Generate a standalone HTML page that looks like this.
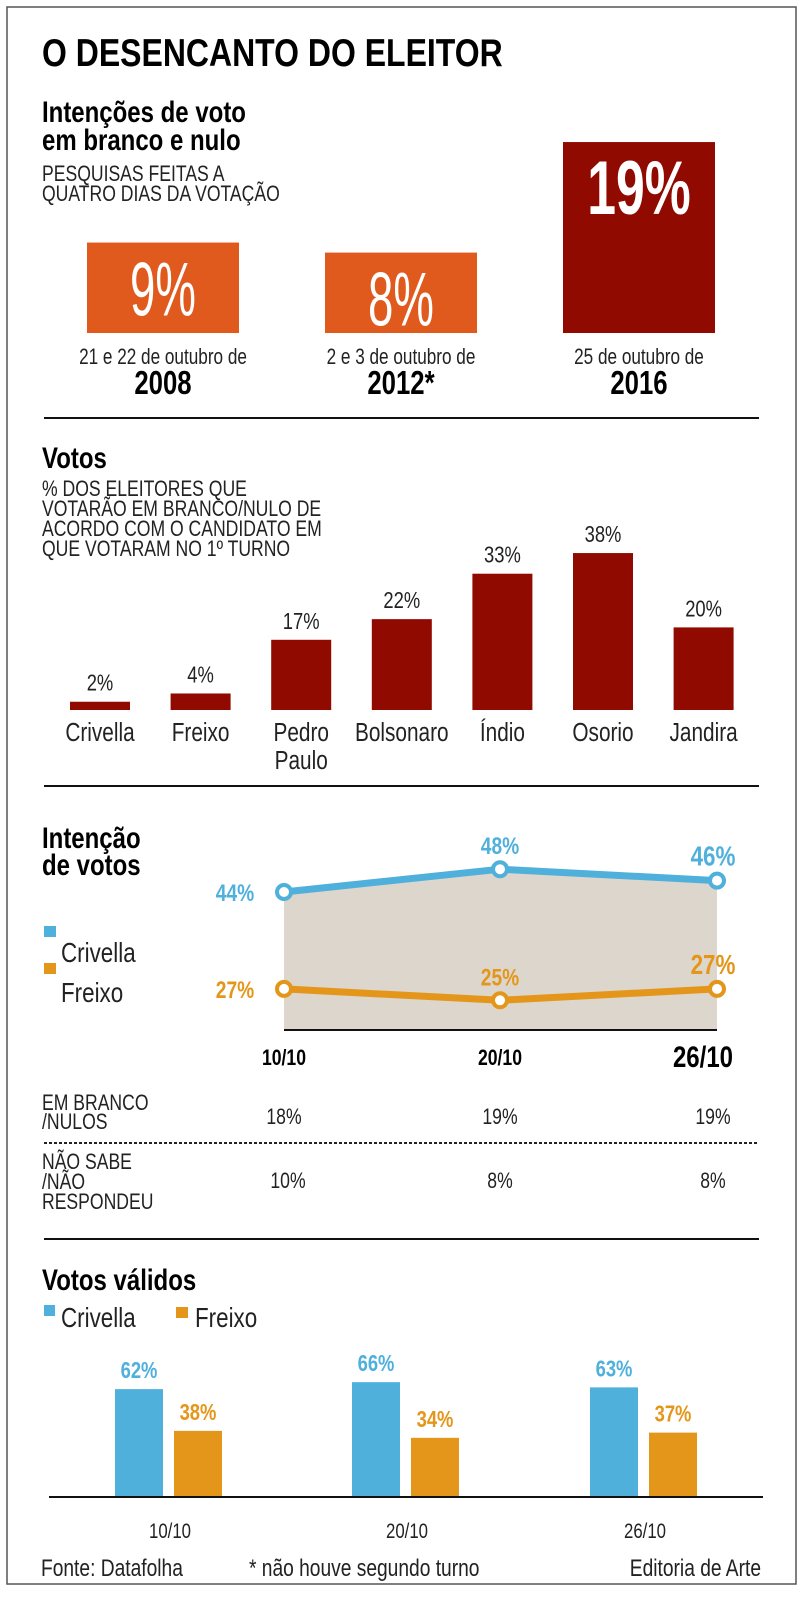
<!DOCTYPE html>
<html><head><meta charset="utf-8"><style>
html,body{margin:0;padding:0;background:#fff;}
svg{display:block;font-family:"Liberation Sans Narrow","Liberation Sans",sans-serif;}
</style></head><body>
<svg id="c" width="805" height="1600" viewBox="0 0 805 1600">
<rect x="7" y="7" width="789" height="1577" fill="#fff" stroke="#555" stroke-width="1.5"/>
<text x="42" y="66" font-size="39" font-weight="bold" data-sx="0.82">O DESENCANTO DO ELEITOR</text>
<text x="42" y="122" font-size="30" font-weight="bold">Intenções de voto</text>
<text x="42" y="150" font-size="30" font-weight="bold">em branco e nulo</text>
<text x="42" y="181" font-size="22" fill="#222">PESQUISAS FEITAS A</text>
<text x="42" y="201" font-size="22" fill="#222">QUATRO DIAS DA VOTAÇÃO</text>
<g id="s1"></g>
<line x1="44" y1="418" x2="759" y2="418" stroke="#111" stroke-width="2"/>
<text x="42" y="468" font-size="30" font-weight="bold">Votos</text>
<g font-size="22" fill="#222">
<text x="42" y="496">% DOS ELEITORES QUE</text>
<text x="42" y="516">VOTARÃO EM BRANCO/NULO DE</text>
<text x="42" y="536">ACORDO COM O CANDIDATO EM</text>
<text x="42" y="556">QUE VOTARAM NO 1º TURNO</text>
</g>
<g id="s2"></g>
<line x1="44" y1="786" x2="759" y2="786" stroke="#111" stroke-width="2"/>
<text x="42" y="848" font-size="30" font-weight="bold">Intenção</text>
<text x="42" y="875" font-size="30" font-weight="bold">de votos</text>
<rect x="44" y="926" width="12" height="11" fill="#4fb0dc"/>
<text x="61" y="962" font-size="28" fill="#222">Crivella</text>
<rect x="44" y="963" width="12" height="11" fill="#e4961a"/>
<text x="61" y="1002" font-size="28" fill="#222">Freixo</text>
<g id="s3"></g>
<g font-size="22" fill="#222">
<text x="42" y="1110">EM BRANCO</text>
<text x="42" y="1129">/NULOS</text>
<text x="42" y="1169">NÃO SABE</text>
<text x="42" y="1189">/NÃO</text>
<text x="42" y="1209">RESPONDEU</text>
</g>
<line x1="44" y1="1143" x2="759" y2="1143" stroke="#222" stroke-width="2" stroke-dasharray="3,2"/>
<line x1="44" y1="1239" x2="759" y2="1239" stroke="#111" stroke-width="2"/>
<text x="42" y="1290" font-size="30" font-weight="bold">Votos válidos</text>
<rect x="44" y="1305" width="11" height="11" fill="#4fb0dc"/>
<text x="61" y="1327" font-size="28" fill="#222">Crivella</text>
<rect x="176" y="1307" width="12" height="11" fill="#e4961a"/>
<text x="195" y="1327" font-size="28" fill="#222">Freixo</text>
<g id="s4"></g>
<g font-size="24" fill="#222">
<text x="41" y="1576">Fonte: Datafolha</text>
<text x="249" y="1576">* não houve segundo turno</text>
<text x="761" y="1576" text-anchor="end">Editoria de Arte</text>
</g>
</svg>
<script>
const NS="http://www.w3.org/2000/svg";
// Section 1 data
const s1Dates=["21 e 22 de outubro de","2 e 3 de outubro de","25 de outubro de"];
const s1Years=["2008","2012*","2016"];
const s1Values=[9,8,19];
// Section 2 data
const s2Names=["Crivella","Freixo","Pedro|Paulo","Bolsonaro","Índio","Osorio","Jandira"];
const s2Values=[2,4,17,22,33,38,20];
// Section 3 data
const s3Dates=["10/10","20/10","26/10"];
const s3Crivella=[44,48,46];
const s3Freixo=[27,25,27];
const s3Branco=["18%","19%","19%"];
const s3NaoSabe=["10%","8%","8%"];
// Section 4 data
const s4Dates=["10/10","20/10","26/10"];
const s4Crivella=[62,66,63];
const s4Freixo=[38,34,37];

function mk(tag,attrs,parent,text){const e=document.createElementNS(NS,tag);for(const k in attrs)e.setAttribute(k,attrs[k]);if(text!==undefined)e.textContent=text;parent.appendChild(e);return e;}

// Section 1
const g1=document.getElementById('s1');
const y1=v=>333-v*10.05;
s1Values.forEach((v,i)=>{
  const x=87+i*238, w=152, cx=x+w/2;
  const r=mk('rect',{x:x,y:y1(v),width:w,height:333-y1(v),fill:i===2?'#900a00':'#e05a1e'},g1);
  
  
  const big=i===2;
  const t=mk('text',{x:cx,y:big?y1(v)+72:y1(v)+73,'text-anchor':'middle','font-size':76,'font-weight':big?'bold':'normal',fill:'#fff','data-sx':big?'0.68':'0.6'},g1,v+'%');
  
  
  const d=mk('text',{x:cx,y:364,'text-anchor':'middle','font-size':22,fill:'#222','data-sx':'0.78'},g1,s1Dates[i]);
  
  
  const yr=mk('text',{x:cx,y:394,'text-anchor':'middle','font-size':33,'font-weight':'bold','data-sx':'0.78'},g1,s1Years[i]);
  
  
});

// Section 2
const g2=document.getElementById('s2');
const base2=710, k2=4.13;
s2Values.forEach((v,i)=>{
  const x=70+i*100.6, w=60, cx=x+w/2, top=base2-v*k2;
  const r=mk('rect',{x:x,y:top,width:w,height:v*k2,fill:'#900a00'},g2);
  
  
  const t=mk('text',{x:cx,y:top-11,'text-anchor':'middle','font-size':23,fill:'#222'},g2,v+'%');
  
  
  s2Names[i].split('|').forEach((ln,j)=>{
    const n=mk('text',{x:cx,y:741+j*28,'text-anchor':'middle','font-size':26,fill:'#222'},g2,ln);
    
    
  });
});

// Section 3
const g3=document.getElementById('s3');
const xs3=[284,500,717];
const y3=v=>892-(v-44)*5.7;
const base3=1030;
let area='M'+xs3[0]+','+base3;
s3Crivella.forEach((v,i)=>area+=' L'+xs3[i]+','+y3(v));
area+=' L'+xs3[2]+','+base3+' Z';
const ar=mk('path',{d:area,fill:'#ddd6cc'},g3);


const ax=mk('line',{x1:284,y1:base3,x2:717,y2:base3,stroke:'#111','stroke-width':2},g3);


[[s3Crivella,'#4fb0dc','crivella'],[s3Freixo,'#e4961a','freixo']].forEach(([arr,col,nm])=>{
  const pts=arr.map((v,i)=>xs3[i]+','+y3(v)).join(' ');
  const pl=mk('polyline',{points:pts,fill:'none',stroke:col,'stroke-width':7},g3);
  
  
  arr.forEach((v,i)=>{
    const c=mk('circle',{cx:xs3[i],cy:y3(v),r:7,fill:'#fff',stroke:col,'stroke-width':4},g3);
    
    
    let lx,ly;
    if(i===0){lx=235;ly=y3(v)+9;}else{lx=i===1?500:713;ly=y3(v)-15;}
    const t=mk('text',{x:lx,y:ly,'text-anchor':'middle','font-size':i===2?28:24,'font-weight':'bold',fill:col},g3,v+'%');
    
    
  });
});
s3Dates.forEach((d,i)=>{
  const big=i===2;
  const t=mk('text',{x:big?703:xs3[i],y:big?1067:1065,'text-anchor':'middle','font-size':big?30:22,'font-weight':'bold'},g3,d);
  
  
  const b=mk('text',{x:i===0?284:(i===1?500:713),y:1124,'text-anchor':'middle','font-size':22,fill:'#222'},g3,s3Branco[i]);
  
  
  const n=mk('text',{x:i===0?288:(i===1?500:713),y:1188,'text-anchor':'middle','font-size':22,fill:'#222'},g3,s3NaoSabe[i]);
  
  
});

// Section 4
const g4=document.getElementById('s4');
const base4=1497,k4=1.74;
const gx=[115,352,590];
s4Dates.forEach((d,i)=>{
  [[s4Crivella[i],'#4fb0dc',0,'crivella'],[s4Freixo[i],'#e4961a',59,'freixo']].forEach(([v,col,off,nm])=>{
    const x=gx[i]+off, top=base4-v*k4;
    const r=mk('rect',{x:x,y:top,width:48,height:v*k4,fill:col},g4);
    
    
    const t=mk('text',{x:x+24,y:top-11,'text-anchor':'middle','font-size':23,'font-weight':'bold',fill:col},g4,v+'%');
    
    
  });
  const t=mk('text',{x:gx[i]+55,y:1538,'text-anchor':'middle','font-size':21,fill:'#222'},g4,d);
  
  
});
const ax4=mk('line',{x1:49,y1:base4,x2:763,y2:base4,stroke:'#111','stroke-width':2},g4);



// condense all text horizontally around its anchor x
document.querySelectorAll('#c text').forEach(t=>{
  const sx=parseFloat(t.getAttribute('data-sx')||'0.8');
  const x=parseFloat(t.getAttribute('x'));
  t.setAttribute('transform','translate('+x+',0) scale('+sx+',1) translate('+(-x)+',0)');
});
</script>
</body></html>
